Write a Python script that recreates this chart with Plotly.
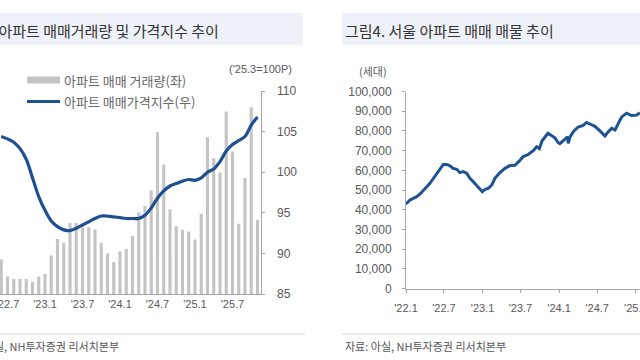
import plotly.graph_objects as go

W, H = 640, 360

# ---------------- Left chart data (monthly, Jun 2022 - Nov 2025) ----------------
months = ["2022-06", "2022-07", "2022-08", "2022-09", "2022-10", "2022-11", "2022-12",
          "2023-01", "2023-02", "2023-03", "2023-04", "2023-05", "2023-06", "2023-07",
          "2023-08", "2023-09", "2023-10", "2023-11", "2023-12", "2024-01", "2024-02",
          "2024-03", "2024-04", "2024-05", "2024-06", "2024-07", "2024-08", "2024-09",
          "2024-10", "2024-11", "2024-12", "2025-01", "2025-02", "2025-03", "2025-04",
          "2025-05", "2025-06", "2025-07", "2025-08", "2025-09", "2025-10", "2025-11"]
trade_volume = [2040, 1035, 890, 890, 890, 710, 1035, 1180, 2280, 3250, 3010, 4190, 4190, 3950,
                3950, 3810, 3030, 2410, 1880, 2510, 2670, 3430, 4830, 5200, 6120, 9570, 7660,
                5000, 4010, 3800, 3700, 3220, 4740, 9270, 8030, 7200, 10790, 8420, 4150, 6850,
                11040, 4390]
price_index = [104.4, 104.1, 103.7, 102.9, 101.6, 99.3, 97.0, 95.3, 94.0, 93.3, 92.9, 92.8,
               93.1, 93.5, 93.9, 94.3, 94.6, 94.6, 94.5, 94.4, 94.3, 94.3, 94.3, 94.7, 95.6,
               96.8, 97.7, 98.3, 98.6, 98.9, 99.1, 99.0, 99.3, 100.0, 100.4, 101.3, 102.6,
               103.4, 103.9, 104.4, 105.8, 106.8]
left_tickvals = ["2022-07", "2023-01", "2023-07", "2024-01", "2024-07", "2025-01", "2025-07"]
left_ticktext = ["'22.7", "'23.1", "'23.7", "'24.1", "'24.7", "'25.1", "'25.7"]
index_ticks = [85, 90, 95, 100, 105, 110]

# ---------------- Right chart data (Seoul listings) ----------------
listing_dates = ["2022-01-01", "2022-01-20", "2022-02-05", "2022-02-21", "2022-03-09", "2022-03-24",
                 "2022-04-10", "2022-04-25", "2022-05-11", "2022-05-27", "2022-06-12", "2022-06-28",
                 "2022-07-14", "2022-07-30", "2022-08-14", "2022-08-31", "2022-09-15", "2022-10-01",
                 "2022-10-17", "2022-11-02", "2022-11-18", "2022-12-04", "2022-12-20", "2022-12-31",
                 "2023-01-13", "2023-01-28", "2023-02-14", "2023-03-01", "2023-03-25", "2023-04-18",
                 "2023-05-12", "2023-06-05", "2023-06-28", "2023-07-14", "2023-08-07", "2023-08-31",
                 "2023-09-16", "2023-09-29", "2023-10-12", "2023-10-26", "2023-11-09", "2023-11-27",
                 "2023-12-12", "2023-12-28", "2024-01-05", "2024-01-21", "2024-02-03", "2024-02-10",
                 "2024-02-14", "2024-02-22", "2024-03-12", "2024-04-01", "2024-04-25", "2024-05-11",
                 "2024-05-27", "2024-06-20", "2024-07-14", "2024-08-07", "2024-08-23", "2024-09-08",
                 "2024-09-24", "2024-10-09", "2024-10-25", "2024-11-18", "2024-12-12", "2025-01-05",
                 "2025-01-20"]
listings = [42900, 44900, 45800, 46600, 48000, 50000,
            51700, 53400, 55900, 58500, 61000, 63000,
            63000, 62300, 61000, 60500, 58800, 59300,
            58500, 55900, 54200, 52500, 50800, 49100,
            50300, 50800, 52500, 55900, 58900, 61000,
            62400, 62600, 65000, 67000, 68000, 70000,
            72000, 71000, 75000, 77000, 78800, 77600,
            76500, 74000, 73500, 75000, 76500, 77000,
            73700, 77000, 80000, 82000, 82800, 84300,
            83500, 82300, 80000, 77400, 79600, 81300,
            80500, 84000, 87000, 89000, 87800, 88000,
            89200]
right_tickvals = ["2022-01-01", "2022-07-01", "2023-01-01", "2023-07-01", "2024-01-01",
                  "2024-07-01", "2025-01-01"]
right_ticktext = ["'22.1", "'22.7", "'23.1", "'23.7", "'24.1", "'24.7", "'25.1"]

# ---------------- helpers ----------------
def fx(p):
    return p / W

def fy(p):
    return 1 - p / H

NUM_FONT = "Liberation Sans Narrow, Arial Narrow, Liberation Sans, Arial"
KR_FONT = "Noto Sans CJK KR, Noto Sans, sans-serif"
GRAY_TXT = "#595959"
AXIS_GRAY = "#a6a6a6"

fig = go.Figure()
fig.add_trace(go.Bar(x=months, y=trade_volume, marker=dict(color="#c4c4c4", line=dict(width=0)),
                     xaxis="x", yaxis="y", showlegend=False, hoverinfo="skip"))
fig.add_trace(go.Scatter(x=months, y=price_index, mode="lines", xaxis="x", yaxis="y2",
                         line=dict(color="#1e4f91", width=3.2, shape="spline", smoothing=1.0),
                         showlegend=False, hoverinfo="skip"))
fig.add_trace(go.Scatter(x=listing_dates, y=listings, mode="lines", xaxis="x2", yaxis="y3",
                         line=dict(color="#1d5295", width=3),
                         showlegend=False, hoverinfo="skip"))

ld = [fy(294), fy(91)]
rd = [fy(288.5), fy(91.5)]

fig.update_layout(
    width=W, height=H, margin=dict(l=0, r=0, t=0, b=0, pad=0, autoexpand=False),
    paper_bgcolor="white", plot_bgcolor="rgba(0,0,0,0)",
    bargap=0.5, showlegend=False,
    xaxis=dict(domain=[0, fx(260.6)], type="category", range=[-0.2, 41.5], anchor="y",
               automargin=False, ticklabeloverflow="allow",
               tickmode="array", tickvals=left_tickvals, ticktext=left_ticktext,
               showline=True, linecolor=AXIS_GRAY, linewidth=1, ticks="", showgrid=False,
               tickfont=dict(family=NUM_FONT, size=11, color=GRAY_TXT)),
    yaxis=dict(domain=ld, range=[0, 12000], visible=False, showgrid=False, anchor="x",
               automargin=False),
    yaxis2=dict(domain=ld, overlaying="y", side="right", anchor="x", range=[85, 110],
                automargin=False,
                tickmode="array", tickvals=index_ticks, showline=True, linecolor=AXIS_GRAY,
                linewidth=1, ticks="outside", ticklen=3, tickcolor=AXIS_GRAY, showgrid=False,
                zeroline=False, ticklabelstandoff=10,
                tickfont=dict(family=NUM_FONT, size=12, color=GRAY_TXT)),
    xaxis2=dict(domain=[fx(406), 1], type="date", range=["2022-01-01", "2025-01-21"], anchor="y3",
                automargin=False, ticklabeloverflow="allow",
                tickmode="array", tickvals=right_tickvals, ticktext=right_ticktext,
                showline=True, linecolor=AXIS_GRAY, linewidth=1, ticks="outside", ticklen=3,
                tickcolor=AXIS_GRAY, showgrid=False, zeroline=False, ticklabelstandoff=6,
                tickfont=dict(family=NUM_FONT, size=11, color=GRAY_TXT)),
    yaxis3=dict(domain=rd, range=[0, 100000], dtick=10000, tickformat=",", anchor="x2",
                automargin=False,
                showline=True, linecolor=AXIS_GRAY, linewidth=1, ticks="outside", ticklen=3,
                tickcolor=AXIS_GRAY, showgrid=False, zeroline=False, ticklabelstandoff=8,
                tickfont=dict(family=NUM_FONT, size=12, color=GRAY_TXT)),
)

shapes = [
    # title bands
    dict(type="rect", xref="paper", yref="paper", x0=fx(-60), x1=fx(303), y0=fy(45), y1=fy(13),
         fillcolor="#eef1f8", line=dict(width=0), layer="below"),
    dict(type="rect", xref="paper", yref="paper", x0=fx(342), x1=fx(700), y0=fy(45), y1=fy(13),
         fillcolor="#eef1f8", line=dict(width=0), layer="below"),
    # bottom separators
    dict(type="line", xref="paper", yref="paper", x0=fx(-60), x1=fx(305), y0=fy(334), y1=fy(334),
         line=dict(color="#d9d9d9", width=1)),
    dict(type="line", xref="paper", yref="paper", x0=fx(342), x1=fx(700), y0=fy(334), y1=fy(334),
         line=dict(color="#d9d9d9", width=1)),
    # legend symbols
    dict(type="rect", xref="paper", yref="paper", x0=fx(27), x1=fx(60), y0=fy(83.5), y1=fy(76.5),
         fillcolor="#c4c4c4", line=dict(width=0)),
    dict(type="line", xref="paper", yref="paper", x0=fx(27), x1=fx(60), y0=fy(101.5), y1=fy(101.5),
         line=dict(color="#1e4f91", width=3.2)),
]

def ann(text, x, y, size, color, font=KR_FONT, xanchor="left"):
    return dict(text=text, x=fx(x), y=fy(y), xref="paper", yref="paper", showarrow=False,
                xanchor=xanchor, yanchor="middle", font=dict(family=font, size=size, color=color))

annotations = [
    ann("그림3. 아파트 매매거래량 및 가격지수 추이", -47, 30, 15, "#333333"),
    ann("그림4. 서울 아파트 매매 매물 추이", 343, 30, 15, "#333333"),
    ann("아파트 매매 거래량(좌)", 62, 80, 13, "#666666"),
    ann("아파트 매매가격지수(우)", 62, 101, 13, "#666666"),
    ann("('25.3=100P)", 294, 69, 11, GRAY_TXT, font=NUM_FONT, xanchor="right"),
    ann("(세대)", 357, 71, 11, GRAY_TXT),
    ann("자료: 아실, NH투자증권 리서치본부", -44, 346, 11, "#555555"),
    ann("자료: 아실, NH투자증권 리서치본부", 343, 346, 11, "#555555"),
]

fig.update_layout(shapes=shapes, annotations=annotations)

fig.write_html("out.html", config={"displayModeBar": False},
               post_script="document.body.style.margin='0';")
